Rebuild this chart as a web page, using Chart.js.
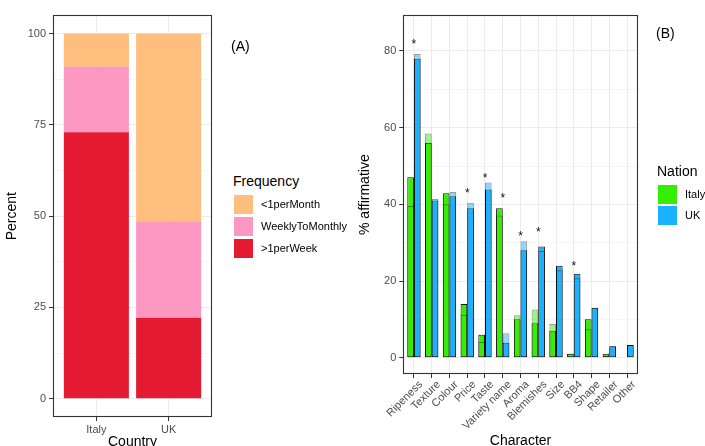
<!DOCTYPE html>
<html>
<head>
<meta charset="utf-8">
<script src="https://cdn.jsdelivr.net/npm/chart.js@4.4.1/dist/chart.umd.min.js"></script>
<style>
  html, body { margin: 0; padding: 0; background: #fff; width: 705px; height: 446px; overflow: hidden;
    font-family: "Liberation Sans", Arial, sans-serif; }
  canvas { position: absolute; top: 0; }
  #chartA { left: 0; }
  #chartB { left: 330px; }
  .txt { position: absolute; white-space: nowrap; color: #000; }
  .key { position: absolute; width: 19px; height: 19px; }
</style>
</head>
<body>
<canvas id="chartA" width="232" height="446"></canvas>
<canvas id="chartB" width="375" height="446"></canvas>
<div id="overlay"></div>
<script>
// ---- Panel A: shopping frequency by country (percent of respondents) ----
const countries = ['Italy', 'UK'];
const frequencyLevels = ['<1perMonth', 'WeeklyToMonthly', '>1perWeek'];
const lessThanMonthly = [9.1, 51.4];
const weeklyToMonthly = [17.9, 26.4];
const moreThanWeekly = [73.0, 22.2];
const percentTicks = [0, 25, 50, 75, 100];

// ---- Panel B: characters cited, % affirmative by nation ----
const characters = ['Ripeness', 'Texture', 'Colour', 'Price', 'Taste', 'Variety name', 'Aroma',
  'Blemishes', 'Size', 'BB4', 'Shape', 'Retailer', 'Other'];
const italyShare    = [47.1, 56.0, 42.9, 14.0, 6.0, 39.0, 10.0, 9.0, 7.0, 1.0, 10.0, 1.0, 0];
const italyShareAlt = [39.6, 58.5, 40.0, 11.2, 4.1, 37.1, 11.1, 12.6, 8.8, 1.0, 7.4, 0.5, 0];
const ukShare       = [78.0, 41.0, 42.1, 39.0, 43.9, 3.9, 28.0, 29.0, 24.0, 21.9, 13.0, 3.0, 3.3];
const ukShareAlt    = [79.2, 41.4, 43.2, 40.4, 45.7, 6.4, 30.4, 27.8, 22.8, 20.7, 13.0, 3.0, 3.3];
const starredCharacters = ['Ripeness', 'Price', 'Taste', 'Variety name', 'Aroma', 'Blemishes', 'BB4'];
const starHeights = [82.7, 43.7, 47.6, 42.5, 32.6, 33.7, 24.8];
const affirmativeTicks = [0, 20, 40, 60, 80];
const nations = ['Italy', 'UK'];

const FONT = '"Liberation Sans", Arial, sans-serif';
const GRID = '#EBEBEB';
const INK = '#333333';
const TICK_TEXT = '#4D4D4D';

const freqColours = ['#FDBE7E', '#FC97C1', '#E41A33'];
const nationColours = ['#36EE00', '#1AB2FF'];
const nationColoursAlt = ['rgba(54,238,0,0.5)', 'rgba(26,178,255,0.5)'];

// draws the panel frame around the plotting area
const panelFrame = {
  id: 'panelFrame',
  afterDatasetsDraw(chart) {
    const a = chart.chartArea, ctx = chart.ctx;
    ctx.save();
    ctx.strokeStyle = INK;
    ctx.lineWidth = 1.1;
    const l = Math.round(a.left) + 0.5, t = Math.round(a.top) + 0.5;
    const r = Math.round(a.right) - 0.5, b = Math.round(a.bottom) - 0.5;
    ctx.strokeRect(l, t, r - l, b - t);
    ctx.restore();
  }
};

// majors + midpoint minors for the value axis grid
function withMinors(majors) {
  const out = [];
  majors.forEach((v, i) => {
    out.push(v);
    if (i < majors.length - 1) out.push((v + majors[i + 1]) / 2);
  });
  return out;
}

function valueAxis(majors, min, max, width, titleText) {
  const all = withMinors(majors);
  return {
    type: 'linear', min, max,
    afterBuildTicks: s => { s.ticks = all.map(v => ({ value: v })); },
    afterFit: s => { s.width = width; },
    border: { display: false },
    grid: {
      color: GRID,
      lineWidth: c => (c.tick && majors.includes(c.tick.value)) ? 1 : 0.5,
      tickColor: c => (c.tick && majors.includes(c.tick.value)) ? INK : 'rgba(0,0,0,0)',
      tickWidth: 1,
      tickLength: 4
    },
    ticks: {
      autoSkip: false, padding: 3, color: TICK_TEXT,
      font: { family: FONT, size: 11 },
      callback: v => majors.includes(v) ? String(v) : ''
    },
    title: { display: true, text: titleText, color: '#000', font: { family: FONT, size: 14 }, padding: { top: 4, bottom: 4 } }
  };
}

function categoryAxis(labels, height, titleText, rotation, titlePadBottom, labelPad, labelShift) {
  return {
    type: 'linear', min: 0.4, max: labels.length + 0.6, stacked: true, offset: false,
    afterBuildTicks: s => { s.ticks = labels.map((_, i) => ({ value: i + 1 })); },
    afterFit: s => { s.height = height; },
    border: { display: false },
    grid: { offset: false, color: GRID, lineWidth: 1, tickColor: INK, tickWidth: 1, tickLength: 4 },
    ticks: {
      autoSkip: false, padding: labelPad, labelOffset: labelShift, color: TICK_TEXT,
      minRotation: rotation, maxRotation: rotation,
      font: { family: FONT, size: 11 },
      callback: v => labels[v - 1] ?? ''
    },
    title: { display: true, text: titleText, color: '#000', font: { family: FONT, size: 14 }, padding: { top: 0, bottom: titlePadBottom } }
  };
}

const toPoints = vals => vals.map((v, i) => ({ x: i + 1, y: v }));

Chart.defaults.animation = false;
Chart.defaults.devicePixelRatio = 1;

// ---- Panel A chart ----
const freqSeries = [moreThanWeekly, weeklyToMonthly, lessThanMonthly];
const freqNames = [frequencyLevels[2], frequencyLevels[1], frequencyLevels[0]];
const freqFill = [freqColours[2], freqColours[1], freqColours[0]];
new Chart(document.getElementById('chartA'), {
  type: 'bar',
  data: {
    datasets: freqSeries.map((vals, k) => ({
      label: freqNames[k],
      data: toPoints(vals),
      backgroundColor: freqFill[k],
      borderWidth: 0,
      barPercentage: 0.9,
      categoryPercentage: 1
    }))
  },
  options: {
    responsive: false,
    layout: { padding: { left: 0, top: 15.3, right: 20, bottom: 0 } },
    plugins: { legend: { display: false }, tooltip: { enabled: false } },
    scales: {
      x: categoryAxis(countries, 29, 'Country', 0, -4.5, 2, 0),
      y: Object.assign(valueAxis(percentTicks, -5, 105, 53, 'Percent'), { stacked: true })
    }
  },
  plugins: [panelFrame]
});

// ---- Panel B chart ----
const significanceStars = {
  id: 'significanceStars',
  afterDatasetsDraw(chart) {
    const ctx = chart.ctx, xs = chart.scales.x, ys = chart.scales.y;
    ctx.save();
    ctx.fillStyle = '#111';
    ctx.font = '12px ' + FONT;
    ctx.textAlign = 'center';
    ctx.textBaseline = 'alphabetic';
    starredCharacters.forEach((name, k) => {
      const x = xs.getPixelForValue(characters.indexOf(name) + 1);
      const y = ys.getPixelForValue(starHeights[k]);
      ctx.fillText('*', x, y + 7);
    });
    ctx.restore();
  }
};

const shareSeries = [italyShare, ukShare];
const shareSeriesAlt = [italyShareAlt, ukShareAlt];
const barDefaults = { barPercentage: 1, categoryPercentage: 0.75, borderWidth: 1, borderSkipped: false };
const bDatasets = [];
nations.forEach((n, k) => bDatasets.push(Object.assign({
  label: n + ' alt', data: toPoints(shareSeriesAlt[k]), stack: n, order: 0,
  backgroundColor: nationColoursAlt[k], borderColor: 'rgba(0,0,0,0.4)'
}, barDefaults)));
nations.forEach((n, k) => bDatasets.push(Object.assign({
  label: n, data: toPoints(shareSeries[k]), stack: n, order: 1,
  backgroundColor: nationColours[k], borderColor: '#111'
}, barDefaults)));

new Chart(document.getElementById('chartB'), {
  type: 'bar',
  data: { datasets: bDatasets },
  options: {
    responsive: false,
    layout: { padding: { left: 22.6, top: 15.3, right: 67.3, bottom: 0 } },
    plugins: { legend: { display: false }, tooltip: { enabled: false } },
    scales: {
      x: categoryAxis(characters, 72, 'Character', 45, -3.5, 0, 7),
      y: Object.assign(valueAxis(affirmativeTicks, -4.25, 89.31, 50.7, '% affirmative'), { stacked: false })
    }
  },
  plugins: [panelFrame, significanceStars]
});

// ---- legends and panel tags ----
const overlay = document.getElementById('overlay');
function addText(text, left, centerY, size) {
  const d = document.createElement('div');
  d.className = 'txt';
  d.textContent = text;
  d.style.left = left + 'px';
  d.style.fontSize = size + 'px';
  d.style.lineHeight = (size + 2) + 'px';
  d.style.top = (centerY - (size + 2) / 2) + 'px';
  overlay.appendChild(d);
}
function addLegend(title, names, colours, left, titleY, firstKeyTop, step) {
  addText(title, left, titleY, 14);
  names.forEach((name, k) => {
    const key = document.createElement('div');
    key.className = 'key';
    key.style.left = (left + 0.5) + 'px';
    key.style.top = (firstKeyTop + k * step) + 'px';
    key.style.background = colours[k];
    overlay.appendChild(key);
    addText(name, left + 28, firstKeyTop + k * step + 10, 11);
  });
}
addLegend('Frequency', frequencyLevels, freqColours, 233, 181, 194.5, 22);
addLegend('Nation', nations, nationColours, 657, 171, 184.5, 21);
addText('(A)', 231, 46, 14);
addText('(B)', 656, 33, 14);
</script>
</body>
</html>
